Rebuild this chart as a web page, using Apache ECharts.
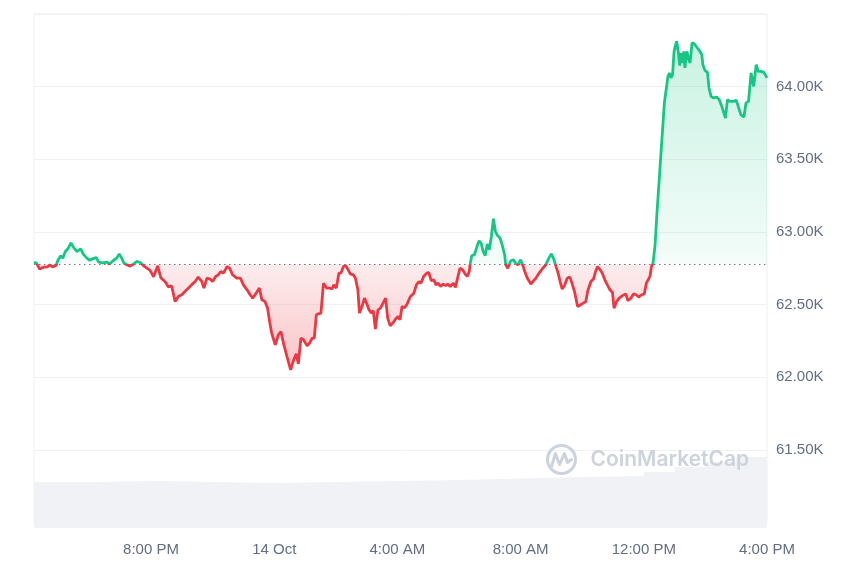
<!DOCTYPE html>
<html><head><meta charset="utf-8">
<script src="https://cdn.jsdelivr.net/npm/echarts@6/dist/echarts.min.js"></script>
<style>html,body{margin:0;padding:0;background:#fff}#c{width:860px;height:573px}</style>
</head><body><div id="c"></div>
<script>
// 13 Oct 16:12 -> 14 Oct 16:00 (local clock), price in USD
const times = ['16:12','16:17','16:23','16:31','16:38','16:43','16:48','16:55','16:59','17:04','17:08','17:13','17:18','17:24','17:30','17:36','17:43','17:48','17:55','18:00','18:06','18:13','18:18','18:26','18:34','18:39','18:46','18:53','18:58','19:03','19:07','19:13','19:19','19:26','19:32','19:39','19:45','19:52','19:58','20:05','20:13','20:19','20:27','20:34','20:40','20:47','20:53','21:00','21:06','21:13','21:19','21:26','21:32','21:39','21:43','21:49','21:55','22:00','22:06','22:11','22:16','22:21','22:28','22:33','22:39','22:47','22:54','23:00','23:07','23:13','23:18','23:25','23:31','23:36','23:42','23:47','23:51','23:55','00:02','00:08','00:13','00:18','00:25','00:32','00:38','00:43','00:47','00:52','00:57','01:04','01:09','01:14','01:18','01:22','01:26','01:31','01:36','01:42','01:48','01:53','01:56','02:01','02:06','02:10','02:15','02:19','02:24','02:28','02:34','02:38','02:43','02:46','02:51','02:56','03:00','03:04','03:09','03:13','03:17','03:22','03:27','03:32','03:37','03:41','03:46','03:52','03:56','04:01','04:05','04:09','04:14','04:19','04:25','04:32','04:37','04:42','04:46','04:51','04:57','05:01','05:06','05:11','05:15','05:19','05:24','05:29','05:34','05:38','05:43','05:49','05:53','05:58','06:02','06:07','06:12','06:16','06:20','06:22','06:25','06:30','06:34','06:39','06:43','06:47','06:51','06:55','06:59','07:03','07:07','07:11','07:15','07:20','07:24','07:29','07:31','07:35','07:41','07:46','07:50','07:55','08:00','08:04','08:08','08:13','08:20','08:25','08:29','08:36','08:42','08:49','08:55','09:00','09:05','09:09','09:13','09:17','09:21','09:26','09:31','09:36','09:41','09:45','09:51','09:57','10:02','10:07','10:11','10:17','10:22','10:26','10:30','10:35','10:39','10:44','10:49','10:54','10:59','11:02','11:07','11:12','11:18','11:25','11:29','11:35','11:40','11:45','11:50','11:56','12:01','12:05','12:08','12:12','12:15','12:18','12:22','12:25','12:30','12:33','12:37','12:40','12:44','12:47','12:50','12:53','12:56','12:59','13:02','13:04','13:07','13:10','13:12','13:15','13:18','13:20','13:24','13:26','13:30','13:34','13:38','13:43','13:48','13:53','13:55','13:59','14:04','14:07','14:11','14:16','14:22','14:27','14:32','14:36','14:39','14:43','14:48','14:54','15:00','15:04','15:09','15:15','15:19','15:24','15:29','15:34','15:39','15:43','15:48','15:54','16:00'];
const prices = [62790,62786,62745,62758,62760,62774,62760,62769,62809,62836,62820,62866,62884,62924,62889,62866,62884,62848,62820,62806,62815,62824,62793,62788,62793,62779,62802,62820,62848,62820,62786,62774,62765,62779,62797,62790,62769,62751,62736,62692,62767,62685,62659,62621,62630,62521,62556,62568,62590,62614,62636,62659,62689,62659,62614,62683,62676,62659,62694,62705,62728,62717,62762,62751,62705,62683,62683,62636,62602,62568,62545,62579,62614,62533,62521,62476,62384,62304,62223,62292,62315,62235,62141,62051,62120,62161,62092,62269,62258,62216,62235,62269,62269,62430,62437,62442,62648,62614,62614,62609,62636,62614,62717,62717,62762,62769,62740,62712,62705,62683,62602,62442,62487,62545,62510,62469,62442,62459,62331,62464,62476,62510,62545,62407,62354,62377,62400,62418,62395,62487,62478,62505,62554,62579,62636,62659,62648,62694,62717,62721,62664,62671,62636,62648,62625,62641,62632,62641,62625,62648,62618,62694,62751,62740,62710,62694,62728,62786,62838,62843,62889,62939,62924,62866,62838,62917,62877,62969,63091,63003,62976,62958,62912,62843,62774,62751,62802,62809,62786,62774,62809,62774,62728,62683,62641,62664,62678,62717,62745,62774,62820,62850,62809,62762,62717,62659,62607,62636,62683,62689,62636,62590,62487,62499,62510,62521,62597,62659,62676,62728,62762,62740,62717,62671,62636,62602,62583,62476,62521,62545,62561,62574,62528,62545,62574,62568,62552,62568,62574,62648,62652,62694,62762,62786,62912,63098,63360,63520,63727,63888,63991,64071,64094,64060,64083,64243,64289,64312,64243,64145,64232,64163,64243,64129,64243,64209,64163,64301,64296,64273,64250,64220,64152,64112,64098,63991,63933,63922,63929,63910,63864,63819,63784,63910,63899,63899,63906,63864,63807,63791,63888,63899,64094,64002,64152,64105,64105,64098,64060];
const openPrice = 62781;

// 24h volume (billions USD)
const volTimes = ['16:12','18:00','20:15','23:00','00:00','02:00','04:00','06:00','08:00','10:00','12:00','13:00','14:00','15:00','16:00'];
const volumes  = [19.7,20.1,19.5,19.3,19.7,20.1,20.5,21.2,21.8,22.3,24.0,26.1,28.2,30.4,30.4];

const xTickHours  = [20,24,28,32,36,40];
const xTickLabels = ['8:00 PM','14 Oct','4:00 AM','8:00 AM','12:00 PM','4:00 PM'];
const yMin = 61000, yMax = 64500, yStep = 500;

function toHours(list){
  let day = 0, prev = -1;
  return list.map(t => {
    const [h, m] = t.split(':').map(Number);
    const v = h + m / 60;
    if (v < prev) day += 24;
    prev = v;
    return v + day;
  });
}
const th = toHours(times);
const vh = toHours(volTimes);
const priceData = th.map((h, i) => [h, prices[i]]);
const volData = vh.map((h, i) => [h, volumes[i]]);
const xMin = th[0], xMax = 40;

const GREEN = '#16c784', RED = '#ea3943';
const labelColor = '#616e85';
const font = 'Liberation Sans, Arial, sans-serif';

const chart = echarts.init(document.getElementById('c'));
const option = {
  animation: false,
  grid: [
    {left: 34, right: 93, top: 14, bottom: 50.4, show: true, borderColor: '#eceff3', borderWidth: 1},
    {left: 34, right: 93, top: 14, bottom: 45}
  ],
  xAxis: [
    {type: 'value', gridIndex: 0, min: xMin, max: xMax,
     axisLine: {show: false}, axisTick: {show: false}, axisLabel: {show: false}, splitLine: {show: false}},
    {type: 'value', gridIndex: 1, min: xMin, max: xMax,
     axisLine: {show: false}, axisTick: {show: false}, splitLine: {show: false},
     axisLabel: {customValues: xTickHours, formatter: v => xTickLabels[xTickHours.indexOf(v)],
                 color: labelColor, fontSize: 15, fontFamily: font, margin: 14}}
  ],
  yAxis: [
    {type: 'value', gridIndex: 0, position: 'right', min: yMin, max: yMax, interval: yStep,
     axisLine: {show: false}, axisTick: {show: false},
     splitLine: {lineStyle: {color: '#eff2f5', width: 1}},
     axisLabel: {showMinLabel: false, showMaxLabel: false, margin: 9,
                 formatter: v => (v / 1000).toFixed(2) + 'K',
                 color: labelColor, fontSize: 15, fontFamily: font}},
    {type: 'value', gridIndex: 1, min: 0, max: 220, show: false}
  ],
  series: [
    {type: 'line', xAxisIndex: 1, yAxisIndex: 1, data: volData, step: 'end', symbol: 'none',
     lineStyle: {width: 0}, areaStyle: {color: '#f0f2f6', opacity: 1}, z: 1, silent: true},
    {type: 'line', xAxisIndex: 0, yAxisIndex: 0, data: priceData, symbol: 'none', z: 3,
     lineStyle: {width: 2.8, color: GREEN}, areaStyle: {origin: openPrice, color: 'rgba(22,199,132,0.2)'},
     markLine: {silent: true, symbol: 'none', label: {show: false},
                lineStyle: {type: [1.5, 3.5], color: '#6f7886', width: 1.2},
                data: [{yAxis: openPrice}]}}
  ],
  graphic: [
    {type: 'group', left: 545, top: 443, silent: true, z: 100, children: [
      {type: 'circle', z: 100, shape: {cx: 16, cy: 15, r: 14}, style: {fill: 'none', stroke: '#cdd3dd', lineWidth: 3}},
      {type: 'polyline', z: 100, shape: {points: [[6, 22], [10, 9], [14, 20], [19, 9], [22, 18], [26, 15]]},
       style: {fill: 'none', stroke: '#cdd3dd', lineWidth: 3, lineJoin: 'round', lineCap: 'round'}},
      {type: 'text', z: 100, x: 45, y: 15, style: {text: 'CoinMarketCap', fill: '#cdd3dd', fontSize: 21,
        fontWeight: 600, fontFamily: 'Inter, sans-serif', verticalAlign: 'middle'}}
    ]}
  ]
};
chart.setOption(option);

const py = v => chart.convertToPixel({yAxisIndex: 0}, v);
const yT = py(yMax), yB = py(yMin), yO = py(openPrice), yLow = py(Math.min(...prices));
const f = (yO - yT) / (yB - yT), f2 = (yLow - yT) / (yB - yT);
const LG = echarts.graphic.LinearGradient;
chart.setOption({series: [{}, {
  lineStyle: {color: new LG(0, yT, 0, yB, [
    {offset: 0, color: GREEN}, {offset: f, color: GREEN},
    {offset: f, color: RED}, {offset: 1, color: RED}], true)},
  areaStyle: {origin: openPrice, color: new LG(0, yT, 0, yB, [
    {offset: 0, color: 'rgba(22,199,132,0.36)'}, {offset: f, color: 'rgba(22,199,132,0.07)'},
    {offset: f, color: 'rgba(234,57,67,0.13)'}, {offset: f2, color: 'rgba(234,57,67,0.42)'},
    {offset: 1, color: 'rgba(234,57,67,0.42)'}], true)}
}]});
</script>
</body></html>
